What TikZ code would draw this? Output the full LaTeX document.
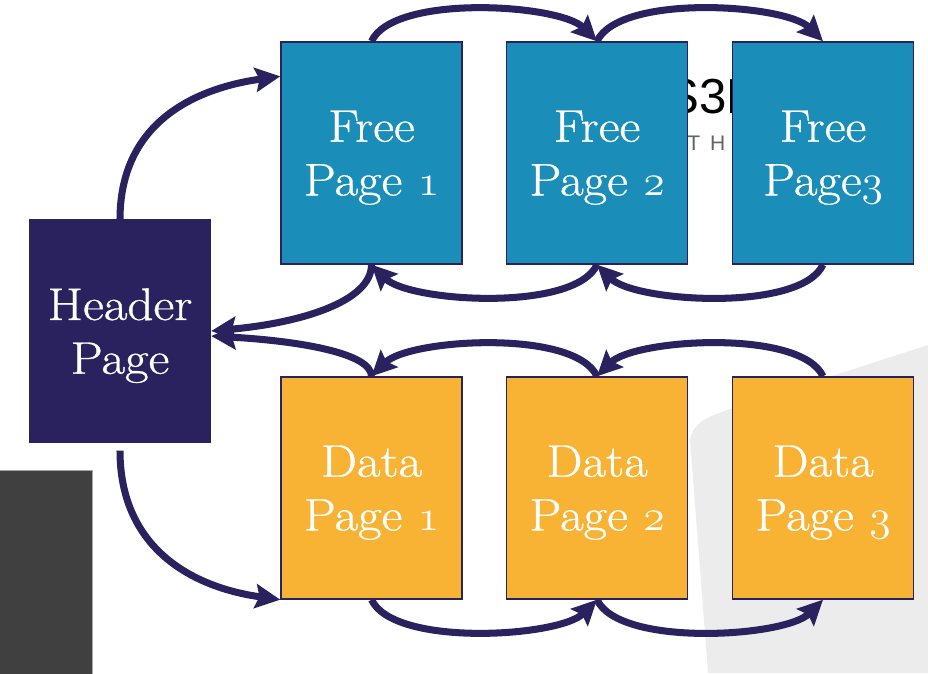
\documentclass[tikz,border=0pt]{standalone}
\usepackage{fontspec}
\newfontfamily\logofont{Liberation Sans}
\newfontfamily\pagefont{Latin Modern Roman}[FakeBold=0.7,FakeStretch=1.12]
\newcommand\osnum[1]{{\usefont{OML}{cmm}{m}{it}#1}}
\usetikzlibrary{arrows.meta}
\definecolor{navy}{RGB}{42,34,94}
\definecolor{freeblue}{RGB}{26,141,184}
\definecolor{dataorange}{RGB}{248,178,52}
\definecolor{slidegray}{RGB}{64,64,64}
\definecolor{shadegray}{RGB}{236,236,236}
\definecolor{mottogray}{RGB}{100,100,100}
\begin{document}
\begin{tikzpicture}[x=0.02cm,y=0.02cm,
    page/.style={draw=navy,line width=0.8pt,minimum width=3.62cm,minimum height=4.44cm,
        inner sep=0pt,text depth=0pt,text=white,align=center,font=\pagefont\fontsize{26}{30.6}\selectfont},
    freepage/.style={page,fill=freeblue},
    datapage/.style={page,fill=dataorange},
    link/.style={navy,line width=4pt,-{Stealth[length=0.5cm,width=0.48cm,inset=0.08cm]}}]
    \useasboundingbox (0,0) rectangle (928,-673);

    % sfondo della slide
    \fill[shadegray] (708,-673) -- (690,-440) to[out=80,in=200] (730,-409) -- (928,-345) -- (928,-673) -- cycle;
    \filldraw[fill=slidegray,draw=gray!70,line width=0.4pt] (-5,-470) rectangle (92,-680);
    \node[anchor=base west,inner sep=0pt,font=\logofont\fontsize{28}{28}\selectfont] (logo) at (666,-113) {S3D};
    \node[anchor=base west,inner sep=0pt,text=mottogray,font=\logofont\fontsize{12}{12}\selectfont] (motto) at (687,-150) {T\kern0.2cm H};

    % le pagine
    \node[page,fill=navy] (hdr) at (120,-331) {Header\\Page};
    \node[freepage] (f1) at (371.5,-153) {Free\\Page \osnum{1}};
    \node[freepage] (f2) at (597,-153) {Free\\Page \osnum{2}};
    \node[freepage] (f3) at (823,-153) {Free\\Page\osnum{3}};
    \node[datapage] (d1) at (371.5,-488) {Data\\Page \osnum{1}};
    \node[datapage] (d2) at (597,-488) {Data\\Page \osnum{2}};
    \node[datapage] (d3) at (823,-488) {Data\\Page \osnum{3}};

    % dall'header alle prime pagine
    \draw[link] (hdr.north) to[out=90,in=-172,looseness=1.1] ([yshift=-0.7cm]f1.north west);
    \draw[link] ([yshift=-0.16cm]hdr.south) to[out=-90,in=172,looseness=1.1] (d1.south west);
    % ritorno all'header
    \draw[link] (f1.south) .. controls +(0,-37) and +(89,8) .. (hdr.east);
    \draw[link] (d1.north) .. controls +(0,23) and +(89,-5) .. ([yshift=-0.1cm]hdr.east);

    % catena delle pagine libere
    \draw[link] (f1.north) to[out=65,in=135,looseness=0.6] (f2.north);
    \draw[link] (f2.north) to[out=65,in=135,looseness=0.6] (f3.north);
    \draw[link] (f3.south) to[out=-115,in=-45,looseness=0.6] (f2.south);
    \draw[link] (f2.south) to[out=-115,in=-45,looseness=0.6] (f1.south);

    % catena delle pagine dati
    \draw[link] (d3.north) to[out=115,in=45,looseness=0.6] (d2.north);
    \draw[link] (d2.north) to[out=115,in=45,looseness=0.6] (d1.north);
    \draw[link] (d1.south) to[out=-65,in=-135,looseness=0.6] (d2.south);
    \draw[link] (d2.south) to[out=-65,in=-135,looseness=0.6] (d3.south);
\end{tikzpicture}
\end{document}
